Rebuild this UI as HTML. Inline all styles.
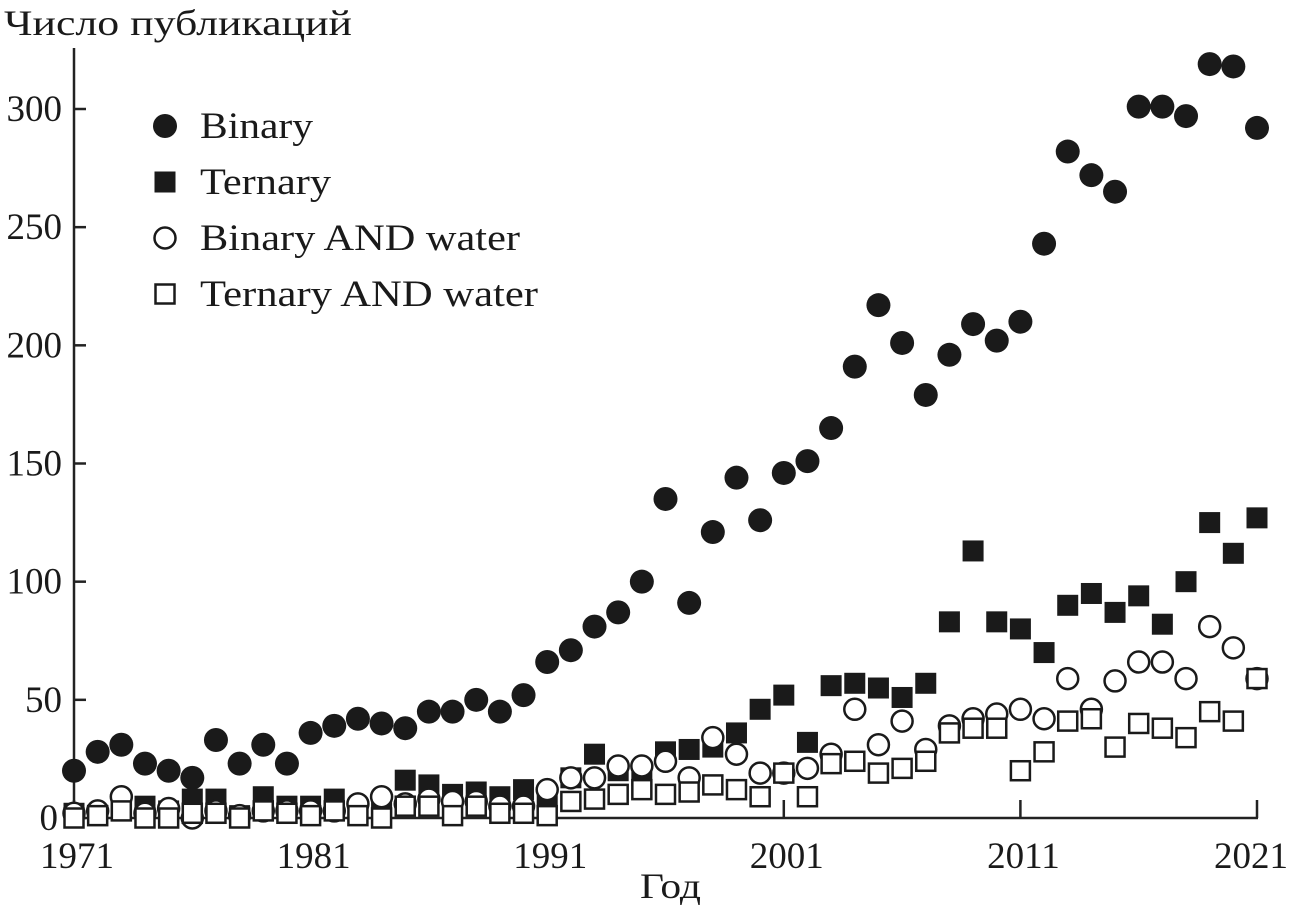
<!DOCTYPE html>
<html><head><meta charset="utf-8"><style>
body{margin:0;background:#fff;width:1293px;height:913px;overflow:hidden}
svg{font-family:"Liberation Serif",serif;fill:#1a1a1a}
</style></head><body>
<svg id="chart" width="1293" height="913">
<text x="4" y="35" font-size="36" textLength="348" lengthAdjust="spacingAndGlyphs">Число публикаций</text>
<text x="640" y="898" font-size="36" textLength="61" lengthAdjust="spacingAndGlyphs">Год</text>
<g id="axes"></g><g id="marks"></g><g id="legend"></g>
</svg>
<script>
const years=[];for(let y=1971;y<=2021;y++)years.push(y);
const binary=[20,28,31,23,20,17,33,23,31,23,36,39,42,40,38,45,45,50,45,52,66,71,81,87,100,135,91,121,144,126,146,151,165,191,217,201,179,196,209,202,210,243,282,272,265,301,301,297,319,318,292];
const ternary=[2,1,3,5,3,8,8,1,9,5,5,8,3,5,16,14,10,11,9,12,8,17,27,20,18,28,29,30,36,46,52,32,56,57,55,51,57,83,113,83,80,70,90,95,87,94,82,100,125,112,127];
const binaryWater=[2,3,9,2,4,0,3,1,3,3,3,3,6,9,6,8,7,7,5,5,12,17,17,22,22,24,17,34,27,19,19,21,27,46,31,41,29,39,42,44,46,42,59,46,58,66,66,59,81,72,59];
const ternaryWater=[0,1,3,0,0,2,2,0,3,2,1,3,1,0,5,5,1,5,2,2,1,7,8,10,12,10,11,14,12,9,19,9,23,24,19,21,24,36,38,38,20,28,41,42,30,40,38,34,45,41,59];
const yTicks=[0,50,100,150,200,250,300];
const xTicks=[1971,1981,1991,2001,2011,2021];
const NS="http://www.w3.org/2000/svg";
const X=v=>74+(v-1971)*(1257-74)/50;
const Y=v=>818-v*(818-109)/300;
function mk(tag,at,parent){const e=document.createElementNS(NS,tag);for(const k in at)e.setAttribute(k,at[k]);parent.appendChild(e);return e;}
const axes=document.getElementById('axes'),marks=document.getElementById('marks'),legend=document.getElementById('legend');
let l=mk('line',{x1:74,y1:48,x2:74,y2:819,stroke:'#222','stroke-width':2.5},axes);


l=mk('line',{x1:73,y1:818,x2:1258,y2:818,stroke:'#222','stroke-width':2.5},axes);


yTicks.forEach(v=>{
 const t=mk('line',{x1:74,y1:Y(v),x2:86,y2:Y(v),stroke:'#222','stroke-width':2.5},axes);
 
 
 const tx=mk('text',{x:v===0?58:62,y:Y(v)+12,'font-size':37,'text-anchor':'end'},axes);tx.textContent=v;
 
 
});
xTicks.forEach(v=>{
 const t=mk('line',{x1:X(v),y1:818,x2:X(v),y2:800,stroke:'#222','stroke-width':2.5},axes);
 
 
 const tx=mk('text',{x:v===2021?X(v)-6:X(v)+3,y:868,'font-size':37,'text-anchor':'middle'},axes);tx.textContent=v;
 
 
});
function marker(kind,cx,cy,parent){
 let e;
 if(kind==='circle')e=mk('circle',{cx,cy,r:12,fill:'#1a1a1a'},parent);
 else if(kind==='square')e=mk('rect',{x:cx-10.5,y:cy-10.5,width:21,height:21,fill:'#1a1a1a'},parent);
 else if(kind==='ocircle')e=mk('circle',{cx,cy,r:10.5,fill:'#fff',stroke:'#1a1a1a','stroke-width':2.5},parent);
 else e=mk('rect',{x:cx-9.5,y:cy-9.5,width:19,height:19,fill:'#fff',stroke:'#1a1a1a','stroke-width':2.5},parent);
 return e;
}
const series=[['square',ternary,'ternary'],['circle',binary,'binary'],['ocircle',binaryWater,'binary-water'],['osquare',ternaryWater,'ternary-water']];
series.forEach(([k,arr,n])=>{arr.forEach((v,i)=>{
 const e=marker(k,X(years[i]),Y(v),marks);
 
 
});});
const legLabels=['Binary','Ternary','Binary AND water','Ternary AND water'];
const legLens=[113,131,320,338];
const legKinds=['circle','square','ocircle','osquare'];
legLabels.forEach((t,i)=>{
 const cy=126+i*56;
 const m=marker(legKinds[i],165,cy,legend);
 
 
 const tx=mk('text',{x:200,y:cy+12,'font-size':37,textLength:legLens[i],lengthAdjust:'spacingAndGlyphs'},legend);tx.textContent=t;
 
 
});
</script>
</body></html>
